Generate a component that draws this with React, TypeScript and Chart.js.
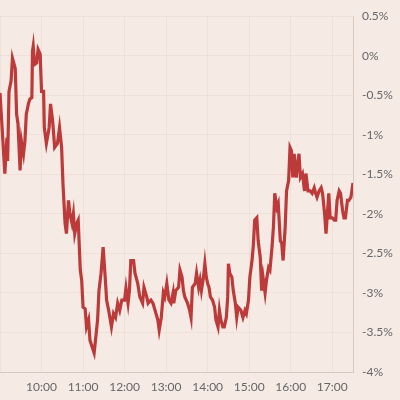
import React, { useEffect, useRef } from "react";
import { Chart, registerables } from "chart.js";

Chart.register(...registerables);

// minutes after 09:00
const minutesFrom9 = [
  0, 7, 10, 11, 13, 16, 18, 22, 24, 26, 29, 31, 34, 36, 38, 41, 43, 46, 47, 48,
  50, 53, 55, 58, 60, 63, 64, 67, 71, 73, 76, 79, 83, 86, 89, 91, 94, 96, 99, 101,
  104, 106, 108, 111, 113, 116, 118, 120, 123, 125, 128, 130, 133, 136, 139, 141, 143, 146, 149, 152,
  154, 157, 161, 164, 167, 170, 173, 176, 180, 182, 185, 187, 189, 193, 195, 199, 202, 206, 208, 212,
  214, 218, 221, 224, 228, 230, 233, 236, 238, 241, 244, 247, 250, 251, 254, 258, 260, 263, 265, 267,
  271, 274, 276, 278, 282, 284, 287, 289, 291, 294, 296, 298, 300, 302, 304, 307, 310, 312, 315, 317,
  319, 322, 324, 327, 329, 330, 332, 335, 337, 340, 342, 344, 348, 351, 354, 356, 359, 361, 364, 366,
  368, 371, 373, 376, 378, 380, 383, 385, 388, 390, 393, 395, 397, 400, 402, 405, 407, 409, 412, 414,
  417, 419, 421, 423, 425, 428, 430, 432, 434, 437, 440, 442, 445, 448, 451, 454, 456, 458, 461, 464,
  466, 469, 471, 473, 475, 477, 480, 483, 485, 487, 490, 492, 495, 497, 499, 502, 504, 507, 510,
];

// percent change
const changePct = [
  -0.47, -1.49, -1.04, -1.33, -0.45, -0.32, -0.03, -0.16, -0.74, -0.86, -1.45, -1.08, -1.24, -1.08, -0.74, -0.61, -0.55, -0.53, 0.06, 0.12,
  -0.11, -0.09, 0.08, 0.02, -0.45, -0.45, -0.91, -1.11, -0.91, -0.61, -0.82, -1.16, -1.11, -0.91, -1.16, -1.62, -2.12, -2.25, -1.83, -2.0,
  -2.12, -2.0, -2.25, -2.12, -2.08, -2.71, -2.84, -3.18, -3.2, -3.43, -3.34, -3.6, -3.68, -3.76, -3.51, -3.34, -2.97, -2.75, -2.42, -2.8,
  -3.09, -3.22, -3.43, -3.26, -3.31, -3.13, -3.22, -3.09, -3.09, -2.94, -3.13, -2.97, -2.59, -2.59, -2.75, -2.88, -3.05, -3.13, -2.93, -3.05,
  -3.13, -3.09, -3.13, -3.22, -3.34, -3.47, -3.31, -3.0, -3.05, -2.88, -3.09, -3.13, -3.0, -3.13, -2.97, -2.93, -2.71, -2.8, -2.97, -3.05,
  -3.13, -3.22, -3.31, -2.93, -2.88, -2.75, -2.93, -2.84, -2.97, -2.8, -2.63, -2.8, -2.88, -2.93, -3.05, -3.09, -3.18, -3.34, -3.43, -3.22,
  -3.34, -3.43, -3.43, -3.31, -3.05, -2.63, -2.75, -2.8, -2.97, -3.13, -3.31, -3.18, -3.22, -3.31, -3.22, -3.26, -3.09, -2.8, -2.6, -2.4,
  -2.08, -2.05, -2.34, -2.55, -2.97, -2.8, -3.0, -2.84, -2.68, -2.71, -2.42, -2.17, -1.74, -1.92, -1.87, -2.34, -2.37, -2.59, -2.17, -1.71,
  -1.58, -1.16, -1.2, -1.54, -1.24, -1.54, -1.37, -1.24, -1.54, -1.49, -1.71, -1.49, -1.71, -1.71, -1.74, -1.67, -1.74, -1.79, -1.71, -1.67,
  -1.74, -2.0, -2.25, -2.0, -1.74, -2.05, -2.05, -2.08, -2.08, -1.83, -1.71, -1.74, -1.96, -2.05, -2.05, -1.83, -1.83, -1.79, -1.61,
];

const startHour = 9;
const yMin = -4;
const yMax = 0.5;
const yStep = 0.5;

export default function App() {
  const canvasRef = useRef<HTMLCanvasElement | null>(null);

  useEffect(() => {
    document.body.style.margin = "0";
    const canvas = canvasRef.current;
    if (!canvas) return;
    const gridColor = "#efe1d8";
    const borderColor = "#d9c9c0";
    const font = { family: "Lato", size: 12 };
    const chart = new Chart(canvas, {
      type: "line",
      data: {
        datasets: [
          {
            data: minutesFrom9.map((m, i) => ({ x: m, y: changePct[i] })),
            borderColor: "#bd3a3a",
            borderWidth: 3.2,
            pointRadius: 0,
            tension: 0,
            fill: false,
          },
        ],
      },
      options: {
        animation: false,
        responsive: false,
        maintainAspectRatio: false,
        layout: { padding: { top: 15, left: 0, right: 0, bottom: 0 } },
        plugins: { legend: { display: false }, tooltip: { enabled: false } },
        scales: {
          x: {
            type: "linear",
            min: 0,
            max: 510,
            grid: { color: gridColor, drawTicks: false },
            border: { color: borderColor },
            afterFit: (axis: any) => {
              axis.height = 28;
              axis.paddingLeft = 0;
              axis.paddingRight = 0;
            },
            ticks: {
              stepSize: 60,
              includeBounds: false,
              padding: 8,
              color: "#666",
              font,
              maxRotation: 0,
              callback: (v: any) => (v === 0 ? "" : `${startHour + v / 60}:00`),
            },
          },
          y: {
            position: "right",
            min: yMin,
            max: yMax,
            grid: { color: gridColor, drawTicks: false },
            border: { color: borderColor },
            afterFit: (axis: any) => {
              axis.width = 47;
            },
            ticks: {
              stepSize: yStep,
              padding: 9,
              color: "#666",
              font,
              callback: (v: any) => `${Math.round(v * 10) / 10}%`,
            },
          },
        },
      },
    });
    return () => chart.destroy();
  }, []);

  return (
    <div style={{ width: 400, height: 400, background: "#f6eae4" }}>
      <canvas ref={canvasRef} width={400} height={400} style={{ display: "block" }} />
    </div>
  );
}
